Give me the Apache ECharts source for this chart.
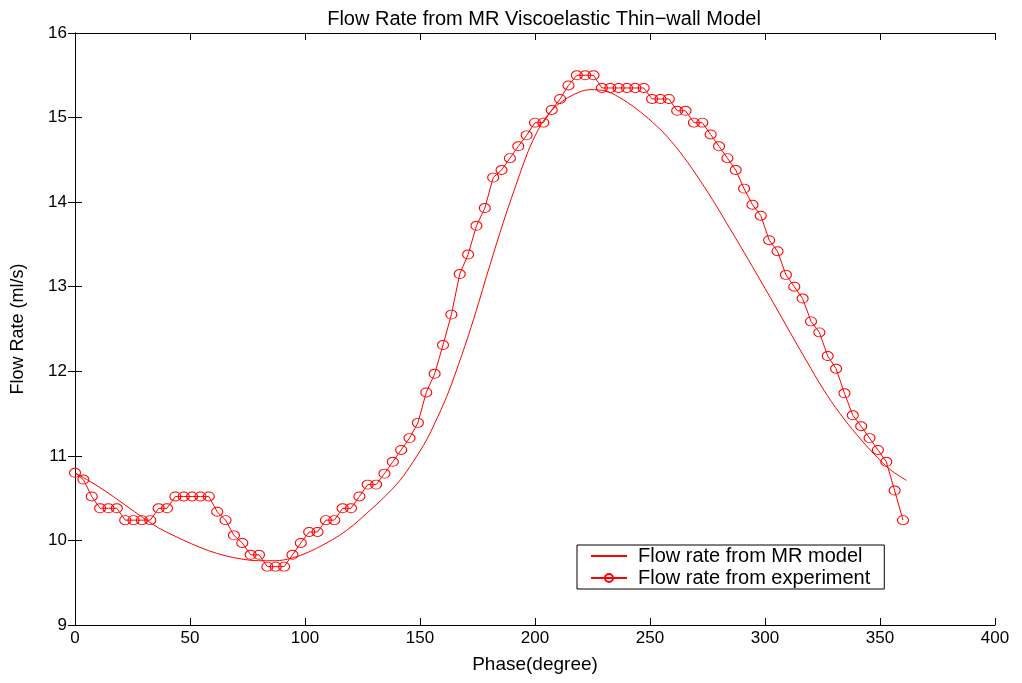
<!DOCTYPE html>
<html>
<head>
<meta charset="utf-8">
<script src="https://cdn.jsdelivr.net/npm/echarts@6/dist/echarts.min.js"></script>
<style>html,body{margin:0;padding:0;background:#fff}#c{width:1022px;height:683px}</style>
</head>
<body>
<div id="c"></div>
<script>
var titleText = 'Flow Rate from MR Viscoelastic Thin\u2212wall Model';
var xName = 'Phase(degree)';
var yName = 'Flow Rate (ml/s)';
var legendNames = ['Flow rate from MR model', 'Flow rate from experiment'];

var modelPhase = [0, 7, 14.5, 21.7, 29, 36.2, 43.5, 50.7, 58, 65.2, 72.5, 79.7, 87, 94.2, 101.4, 108.7,
  115, 121, 126.8, 134, 141.3, 147, 152.9, 156.5, 161.6, 165.2, 171, 175.4, 179, 186.2, 193.5, 197,
  200.7, 204.2, 209.4, 216.7, 223.9, 231.2, 238.4, 245.7, 252.9, 257.3, 264.5, 271.7, 279, 284, 289.1, 296.4,
  303.6, 310.9, 318.1, 325.3, 332.6, 339.9, 347.1, 354.3, 361.5];
var modelRate = [10.80, 10.69, 10.56, 10.42, 10.28, 10.15, 10.05, 9.96, 9.88, 9.82, 9.78, 9.76, 9.76, 9.79, 9.86, 9.96,
  10.06, 10.18, 10.32, 10.50, 10.71, 10.93, 11.19, 11.39, 11.70, 11.96, 12.42, 12.80, 13.13, 13.76, 14.34, 14.60,
  14.82, 14.98, 15.14, 15.27, 15.33, 15.31, 15.21, 15.07, 14.90, 14.78, 14.54, 14.26, 13.95, 13.72, 13.49, 13.15,
  12.81, 12.46, 12.12, 11.79, 11.50, 11.25, 11.03, 10.84, 10.71];

var expPhase = [0, 3.64, 7.27, 10.91, 14.55, 18.18, 21.82, 25.45, 29.09, 32.73, 36.36, 40, 43.64, 47.27, 50.91, 54.55,
  58.18, 61.82, 65.45, 69.09, 72.73, 76.36, 80, 83.64, 87.27, 90.91, 94.55, 98.18, 101.82, 105.45, 109.09, 112.73,
  116.36, 120, 123.64, 127.27, 130.91, 134.55, 138.18, 141.82, 145.45, 149.09, 152.73, 156.36, 160, 163.64, 167.27,
  170.91, 174.55, 178.18, 181.82, 185.45, 189.09, 192.73, 196.36, 200, 203.64, 207.27, 210.91, 214.55, 218.18,
  221.82, 225.45, 229.09, 232.73, 236.36, 240, 243.64, 247.27, 250.91, 254.55, 258.18, 261.82, 265.45, 269.09,
  272.73, 276.36, 280, 283.64, 287.27, 290.91, 294.55, 298.18, 301.82, 305.45, 309.09, 312.73, 316.36, 320,
  323.64, 327.27, 330.91, 334.55, 338.18, 341.82, 345.45, 349.09, 352.73, 356.36, 360];
var expRate = [10.80, 10.72, 10.52, 10.38, 10.38, 10.38, 10.24, 10.24, 10.24, 10.24, 10.38, 10.38, 10.52, 10.52, 10.52, 10.52,
  10.52, 10.34, 10.24, 10.06, 9.97, 9.83, 9.83, 9.69, 9.69, 9.69, 9.83, 9.97, 10.10, 10.10, 10.24, 10.24,
  10.38, 10.38, 10.52, 10.66, 10.66, 10.79, 10.93, 11.07, 11.21, 11.39, 11.75, 11.97, 12.31, 12.67, 13.15,
  13.38, 13.72, 13.93, 14.29, 14.38, 14.52, 14.66, 14.79, 14.94, 14.94, 15.09, 15.22, 15.38, 15.50,
  15.50, 15.50, 15.35, 15.35, 15.35, 15.35, 15.35, 15.35, 15.22, 15.22, 15.22, 15.08, 15.08, 14.94,
  14.94, 14.80, 14.66, 14.52, 14.38, 14.16, 13.97, 13.84, 13.55, 13.42, 13.14, 13.00, 12.86, 12.59,
  12.46, 12.18, 12.03, 11.74, 11.48, 11.35, 11.21, 11.07, 10.93, 10.59, 10.24];

var xTicks = {min: 0, max: 400, interval: 50};
var yTicks = {min: 9, max: 16, interval: 1};

function zip(a, b) { return a.map(function (v, i) { return [v, b[i]]; }); }

var FONT = '"Liberation Sans", Arial, sans-serif';
var chart = echarts.init(document.getElementById('c'), null, {renderer: 'canvas'});
var axisLine = {show: true, lineStyle: {color: '#000', width: 1}};
var tick = {show: true, inside: true, length: 7, lineStyle: {color: '#000', width: 1}};
var lbl = {color: '#000', fontSize: 17, fontFamily: FONT};

chart.setOption({
  animation: false,
  backgroundColor: '#fff',
  title: {
    text: titleText, left: 539, top: 4, textAlign: 'center',
    textStyle: {fontSize: 20, fontWeight: 'normal', color: '#000', fontFamily: FONT}
  },
  grid: {left: 75, right: 27, top: 33, bottom: 58, containLabel: false},
  legend: {
    orient: 'vertical', left: 577, top: 545,
    itemWidth: 36, itemHeight: 10, itemGap: 2,
    padding: [1, 14, 1, 13],
    borderColor: '#000', borderWidth: 1, backgroundColor: '#fff',
    textStyle: {fontSize: 20, color: '#000', fontFamily: FONT, padding: [0, 0, 0, 6]},
    data: [
      {name: legendNames[0], itemStyle: {opacity: 0}},
      {name: legendNames[1]}
    ]
  },
  xAxis: [{
    type: 'value', min: xTicks.min, max: xTicks.max, interval: xTicks.interval,
    name: xName, nameLocation: 'middle', nameGap: 30,
    nameTextStyle: {fontSize: 19, color: '#000', fontFamily: FONT},
    axisLine: axisLine, axisTick: tick, axisLabel: Object.assign({margin: 5}, lbl),
    splitLine: {show: false}
  }, {
    type: 'value', position: 'top', min: xTicks.min, max: xTicks.max, interval: xTicks.interval,
    axisLine: axisLine, axisTick: tick, axisLabel: {show: false}, splitLine: {show: false}
  }],
  yAxis: [{
    type: 'value', min: yTicks.min, max: yTicks.max, interval: yTicks.interval,
    name: yName, nameLocation: 'middle', nameGap: 48, nameRotate: 90,
    nameTextStyle: {fontSize: 18, color: '#000', fontFamily: FONT},
    axisLine: axisLine, axisTick: tick, axisLabel: Object.assign({margin: 8}, lbl),
    splitLine: {show: false}
  }, {
    type: 'value', position: 'right', min: yTicks.min, max: yTicks.max, interval: yTicks.interval,
    axisLine: axisLine, axisTick: tick, axisLabel: {show: false}, splitLine: {show: false}
  }],
  series: [{
    name: legendNames[0], type: 'line', data: zip(modelPhase, modelRate),
    smooth: 0.35, symbol: 'none', color: '#ff0000',
    lineStyle: {color: '#ff0000', width: 1}
  }, {
    name: legendNames[1], type: 'line', data: zip(expPhase, expRate),
    symbol: 'circle', symbolSize: [11, 9], color: '#ff0000',
    lineStyle: {color: '#ff0000', width: 1},
    itemStyle: {color: 'rgba(255,255,255,0)', borderColor: '#ff0000', borderWidth: 1}
  }]
});
</script>
</body>
</html>
